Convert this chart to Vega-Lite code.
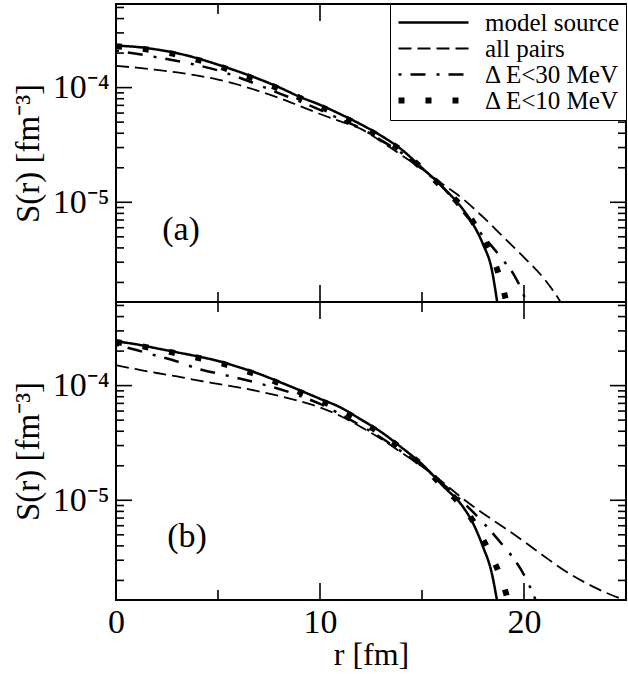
{
  "$schema": "https://vega.github.io/schema/vega-lite/v6.json",
  "background": "white",
  "padding": {"left": 11, "top": 2, "right": 6, "bottom": 2},
  "bounds": "flush",
  "spacing": 0,
  "config": {
    "font": "Liberation Serif",
    "view": {"stroke": "black", "strokeWidth": 2},
    "axis": {"domain": false, "ticks": false, "grid": false, "labelColor": "black", "titleColor": "black", "labelFont": "Liberation Serif", "titleFont": "Liberation Serif", "titleFontWeight": "normal", "labelFlush": false, "labelOverlap": false, "labelBound": false},
    "legend": {"labelFont": "Liberation Serif", "labelFontSize": 25, "labelColor": "black", "symbolStrokeColor": "black", "strokeColor": "black", "fillColor": "white", "padding": 6, "rowPadding": 0, "labelLimit": 0}
  },
  "datasets": {
    "yMinor": [{"v": 2e-6}, {"v": 3e-6}, {"v": 4e-6}, {"v": 5e-6}, {"v": 6e-6}, {"v": 7e-6}, {"v": 8e-6}, {"v": 9e-6}, {"v": 2e-5}, {"v": 3e-5}, {"v": 4e-5}, {"v": 5e-5}, {"v": 6e-5}, {"v": 7e-5}, {"v": 8e-5}, {"v": 9e-5}, {"v": 2e-4}, {"v": 3e-4}, {"v": 4e-4}, {"v": 5e-4}],
    "yMajor": [{"v": 1e-5}, {"v": 1e-4}],
    "xMinor": [{"v": 5}, {"v": 15}],
    "xMajor": [{"v": 10}, {"v": 20}],
    "top": [
      {"r": 0, "S": 2.32e-4, "series": "model source"}, {"r": 1, "S": 2.265e-4, "series": "model source"}, {"r": 2, "S": 2.148e-4, "series": "model source"}, {"r": 3, "S": 1.995e-4, "series": "model source"}, {"r": 4, "S": 1.799e-4, "series": "model source"}, {"r": 5, "S": 1.585e-4, "series": "model source"}, {"r": 6, "S": 1.38e-4, "series": "model source"}, {"r": 7, "S": 1.189e-4, "series": "model source"}, {"r": 8, "S": 1.005e-4, "series": "model source"}, {"r": 9, "S": 8.318e-5, "series": "model source"}, {"r": 10, "S": 7.079e-5, "series": "model source"}, {"r": 11, "S": 5.861e-5, "series": "model source"}, {"r": 12, "S": 4.786e-5, "series": "model source"}, {"r": 13, "S": 3.802e-5, "series": "model source"}, {"r": 14, "S": 2.884e-5, "series": "model source"}, {"r": 15, "S": 1.995e-5, "series": "model source"}, {"r": 16, "S": 1.365e-5, "series": "model source"}, {"r": 17, "S": 8.71e-6, "series": "model source"}, {"r": 17.5, "S": 6.457e-6, "series": "model source"}, {"r": 18, "S": 4.266e-6, "series": "model source"}, {"r": 18.4, "S": 2.692e-6, "series": "model source"}, {"r": 18.75, "S": 1.122e-6, "series": "model source"},
      {"r": 0, "S": 1.545e-4, "series": "all pairs"}, {"r": 1, "S": 1.493e-4, "series": "all pairs"}, {"r": 2, "S": 1.429e-4, "series": "all pairs"}, {"r": 3, "S": 1.355e-4, "series": "all pairs"}, {"r": 4, "S": 1.271e-4, "series": "all pairs"}, {"r": 5, "S": 1.175e-4, "series": "all pairs"}, {"r": 6, "S": 1.059e-4, "series": "all pairs"}, {"r": 7, "S": 9.333e-5, "series": "all pairs"}, {"r": 8, "S": 8.128e-5, "series": "all pairs"}, {"r": 9, "S": 6.918e-5, "series": "all pairs"}, {"r": 10, "S": 5.888e-5, "series": "all pairs"}, {"r": 11, "S": 5.07e-5, "series": "all pairs"}, {"r": 12, "S": 4.365e-5, "series": "all pairs"}, {"r": 13, "S": 3.388e-5, "series": "all pairs"}, {"r": 14, "S": 2.57e-5, "series": "all pairs"}, {"r": 15, "S": 1.95e-5, "series": "all pairs"}, {"r": 16, "S": 1.445e-5, "series": "all pairs"}, {"r": 17, "S": 1.072e-5, "series": "all pairs"}, {"r": 18, "S": 7.413e-6, "series": "all pairs"}, {"r": 19, "S": 4.955e-6, "series": "all pairs"}, {"r": 20, "S": 3.311e-6, "series": "all pairs"}, {"r": 21, "S": 2.138e-6, "series": "all pairs"}, {"r": 21.5, "S": 1.622e-6, "series": "all pairs"}, {"r": 22, "S": 1.175e-6, "series": "all pairs"},
      {"r": 0, "S": 2.104e-4, "series": "dE30"}, {"r": 1, "S": 1.972e-4, "series": "dE30"}, {"r": 2, "S": 1.841e-4, "series": "dE30"}, {"r": 3, "S": 1.706e-4, "series": "dE30"}, {"r": 4, "S": 1.567e-4, "series": "dE30"}, {"r": 5, "S": 1.413e-4, "series": "dE30"}, {"r": 6, "S": 1.23e-4, "series": "dE30"}, {"r": 7, "S": 1.052e-4, "series": "dE30"}, {"r": 8, "S": 8.913e-5, "series": "dE30"}, {"r": 9, "S": 7.586e-5, "series": "dE30"}, {"r": 10, "S": 6.383e-5, "series": "dE30"}, {"r": 11, "S": 5.309e-5, "series": "dE30"}, {"r": 12, "S": 4.416e-5, "series": "dE30"}, {"r": 13, "S": 3.467e-5, "series": "dE30"}, {"r": 14, "S": 2.692e-5, "series": "dE30"}, {"r": 15, "S": 1.95e-5, "series": "dE30"}, {"r": 16, "S": 1.365e-5, "series": "dE30"}, {"r": 17, "S": 8.318e-6, "series": "dE30"}, {"r": 18, "S": 5.07e-6, "series": "dE30"}, {"r": 19, "S": 3.09e-6, "series": "dE30"}, {"r": 19.5, "S": 2.344e-6, "series": "dE30"}, {"r": 20, "S": 1.531e-6, "series": "dE30"}, {"r": 20.2, "S": 1.202e-6, "series": "dE30"},
      {"r": 0, "S": 2.291e-4, "series": "dE10"}, {"r": 1, "S": 2.213e-4, "series": "dE10"}, {"r": 2, "S": 2.089e-4, "series": "dE10"}, {"r": 3, "S": 1.936e-4, "series": "dE10"}, {"r": 4, "S": 1.746e-4, "series": "dE10"}, {"r": 5, "S": 1.542e-4, "series": "dE10"}, {"r": 6, "S": 1.343e-4, "series": "dE10"}, {"r": 7, "S": 1.153e-4, "series": "dE10"}, {"r": 8, "S": 9.772e-5, "series": "dE10"}, {"r": 9, "S": 8.166e-5, "series": "dE10"}, {"r": 10, "S": 6.839e-5, "series": "dE10"}, {"r": 11, "S": 5.689e-5, "series": "dE10"}, {"r": 12, "S": 4.624e-5, "series": "dE10"}, {"r": 13, "S": 3.673e-5, "series": "dE10"}, {"r": 14, "S": 2.818e-5, "series": "dE10"}, {"r": 15, "S": 1.972e-5, "series": "dE10"}, {"r": 16, "S": 1.349e-5, "series": "dE10"}, {"r": 17, "S": 8.913e-6, "series": "dE10"}, {"r": 17.5, "S": 6.761e-6, "series": "dE10"}, {"r": 18, "S": 4.677e-6, "series": "dE10"}, {"r": 18.5, "S": 3.162e-6, "series": "dE10"}, {"r": 19, "S": 1.698e-6, "series": "dE10"}, {"r": 19.2, "S": 1.202e-6, "series": "dE10"}
    ],
    "bottom": [
      {"r": 0, "S": 2.432e-4, "series": "model source"}, {"r": 1, "S": 2.291e-4, "series": "model source"}, {"r": 2, "S": 2.113e-4, "series": "model source"}, {"r": 3, "S": 1.95e-4, "series": "model source"}, {"r": 4, "S": 1.799e-4, "series": "model source"}, {"r": 5, "S": 1.641e-4, "series": "model source"}, {"r": 6, "S": 1.452e-4, "series": "model source"}, {"r": 7, "S": 1.268e-4, "series": "model source"}, {"r": 8, "S": 1.079e-4, "series": "model source"}, {"r": 9, "S": 9.12e-5, "series": "model source"}, {"r": 10, "S": 7.674e-5, "series": "model source"}, {"r": 11, "S": 6.457e-5, "series": "model source"}, {"r": 12, "S": 5.07e-5, "series": "model source"}, {"r": 13, "S": 3.936e-5, "series": "model source"}, {"r": 14, "S": 2.884e-5, "series": "model source"}, {"r": 15, "S": 2.065e-5, "series": "model source"}, {"r": 16, "S": 1.349e-5, "series": "model source"}, {"r": 17, "S": 8.81e-6, "series": "model source"}, {"r": 17.5, "S": 6.31e-6, "series": "model source"}, {"r": 18, "S": 3.89e-6, "series": "model source"}, {"r": 18.4, "S": 2.399e-6, "series": "model source"}, {"r": 18.75, "S": 1.122e-6, "series": "model source"},
      {"r": 0, "S": 1.503e-4, "series": "all pairs"}, {"r": 1, "S": 1.39e-4, "series": "all pairs"}, {"r": 2, "S": 1.288e-4, "series": "all pairs"}, {"r": 3, "S": 1.202e-4, "series": "all pairs"}, {"r": 4, "S": 1.109e-4, "series": "all pairs"}, {"r": 5, "S": 1.035e-4, "series": "all pairs"}, {"r": 6, "S": 9.661e-5, "series": "all pairs"}, {"r": 7, "S": 8.913e-5, "series": "all pairs"}, {"r": 8, "S": 8.128e-5, "series": "all pairs"}, {"r": 9, "S": 7.328e-5, "series": "all pairs"}, {"r": 10, "S": 6.457e-5, "series": "all pairs"}, {"r": 11, "S": 5.433e-5, "series": "all pairs"}, {"r": 12, "S": 4.365e-5, "series": "all pairs"}, {"r": 13, "S": 3.428e-5, "series": "all pairs"}, {"r": 14, "S": 2.6e-5, "series": "all pairs"}, {"r": 15, "S": 1.972e-5, "series": "all pairs"}, {"r": 16, "S": 1.445e-5, "series": "all pairs"}, {"r": 17, "S": 1.035e-5, "series": "all pairs"}, {"r": 18, "S": 7.674e-6, "series": "all pairs"}, {"r": 19, "S": 5.821e-6, "series": "all pairs"}, {"r": 20, "S": 4.365e-6, "series": "all pairs"}, {"r": 21, "S": 3.236e-6, "series": "all pairs"}, {"r": 22, "S": 2.427e-6, "series": "all pairs"}, {"r": 23, "S": 1.914e-6, "series": "all pairs"}, {"r": 24, "S": 1.567e-6, "series": "all pairs"}, {"r": 25, "S": 1.334e-6, "series": "all pairs"},
      {"r": 0, "S": 2.275e-4, "series": "dE30"}, {"r": 1, "S": 2.042e-4, "series": "dE30"}, {"r": 2, "S": 1.82e-4, "series": "dE30"}, {"r": 3, "S": 1.622e-4, "series": "dE30"}, {"r": 4, "S": 1.406e-4, "series": "dE30"}, {"r": 5, "S": 1.274e-4, "series": "dE30"}, {"r": 6, "S": 1.161e-4, "series": "dE30"}, {"r": 7, "S": 1.047e-4, "series": "dE30"}, {"r": 8, "S": 9.333e-5, "series": "dE30"}, {"r": 9, "S": 8.166e-5, "series": "dE30"}, {"r": 10, "S": 6.918e-5, "series": "dE30"}, {"r": 11, "S": 5.623e-5, "series": "dE30"}, {"r": 12, "S": 4.467e-5, "series": "dE30"}, {"r": 13, "S": 3.508e-5, "series": "dE30"}, {"r": 14, "S": 2.661e-5, "series": "dE30"}, {"r": 15, "S": 1.995e-5, "series": "dE30"}, {"r": 16, "S": 1.396e-5, "series": "dE30"}, {"r": 17, "S": 9.661e-6, "series": "dE30"}, {"r": 18, "S": 6.383e-6, "series": "dE30"}, {"r": 19, "S": 3.981e-6, "series": "dE30"}, {"r": 19.5, "S": 3.09e-6, "series": "dE30"}, {"r": 20, "S": 2.239e-6, "series": "dE30"}, {"r": 20.5, "S": 1.445e-6, "series": "dE30"}, {"r": 20.7, "S": 1.175e-6, "series": "dE30"},
      {"r": 0, "S": 2.399e-4, "series": "dE10"}, {"r": 1, "S": 2.249e-4, "series": "dE10"}, {"r": 2, "S": 2.075e-4, "series": "dE10"}, {"r": 3, "S": 1.905e-4, "series": "dE10"}, {"r": 4, "S": 1.75e-4, "series": "dE10"}, {"r": 5, "S": 1.592e-4, "series": "dE10"}, {"r": 6, "S": 1.413e-4, "series": "dE10"}, {"r": 7, "S": 1.23e-4, "series": "dE10"}, {"r": 8, "S": 1.047e-4, "series": "dE10"}, {"r": 9, "S": 8.81e-5, "series": "dE10"}, {"r": 10, "S": 7.413e-5, "series": "dE10"}, {"r": 11, "S": 6.166e-5, "series": "dE10"}, {"r": 12, "S": 4.898e-5, "series": "dE10"}, {"r": 13, "S": 3.802e-5, "series": "dE10"}, {"r": 14, "S": 2.818e-5, "series": "dE10"}, {"r": 15, "S": 2.018e-5, "series": "dE10"}, {"r": 16, "S": 1.334e-5, "series": "dE10"}, {"r": 17, "S": 8.71e-6, "series": "dE10"}, {"r": 17.5, "S": 6.607e-6, "series": "dE10"}, {"r": 18, "S": 4.519e-6, "series": "dE10"}, {"r": 18.5, "S": 3.02e-6, "series": "dE10"}, {"r": 19, "S": 1.82e-6, "series": "dE10"}, {"r": 19.3, "S": 1.175e-6, "series": "dE10"}
    ]
  },
  "resolve": {"scale": {"strokeDash": "independent"}, "legend": {"strokeDash": "independent"}},
  "vconcat": [
    {
      "width": 510,
      "height": 298,
      "resolve": {"axis": {"x": "independent", "y": "independent"}},
      "layer": [
        {
          "data": {"name": "top"},
          "mark": {"type": "line", "clip": true, "stroke": "black", "interpolate": "monotone"},
          "encoding": {
            "x": {"field": "r", "type": "quantitative", "scale": {"domain": [0, 25], "nice": false, "zero": false}, "axis": null},
            "y": {"field": "S", "type": "quantitative", "scale": {"type": "log", "domain": [1.35e-6, 5.36e-4], "nice": false},
                  "axis": {"orient": "left", "values": [1e-5, 1e-4],
                           "labelExpr": "datum.value > 5e-5 ? '10⁻⁴' : '10⁻⁵'",
                           "labelPadding": 7, "labelFontSize": 34, "title": "S(r) [fm⁻³]", "titleFontSize": 33, "titleX": -78, "titleY": 149, "titleBaseline": "alphabetic", "titleAlign": "center", "titleAngle": 270}},
            "strokeDash": {"field": "series", "type": "nominal", "scale": {"domain": ["model source", "all pairs", "dE30", "dE10"], "range": [[1, 0], [13, 6], [3, 9, 15, 11], [6, 21]]},
                           "legend": {"orient": "top-right", "offset": 0, "title": null, "symbolType": "M-1,0H6", "symbolSize": 400, "symbolOffset": 0, "labelOffset": 64,
                                      "labelExpr": "datum.label === 'dE30' ? '\u00a0Δ E<30 MeV' : datum.label === 'dE10' ? '\u00a0Δ E<10 MeV' : datum.label",
                                      "encode": {"symbols": {"update": {"strokeWidth": {"signal": "datum.value === 'dE10' ? 6 : datum.value === 'all pairs' ? 1.8 : 2.5"}}}}}},
            "strokeWidth": {"condition": [{"test": "datum.series === 'dE10'", "value": 6}, {"test": "datum.series === 'all pairs'", "value": 1.8}], "value": 2.5}
          }
        },
        {
          "data": {"values": [{"r": 3.19, "S": 5.7e-6, "label": "(a)"}]},
          "mark": {"type": "text", "fontSize": 34, "baseline": "middle", "align": "center", "color": "black", "font": "Liberation Serif"},
          "encoding": {
            "x": {"field": "r", "type": "quantitative", "scale": {"domain": [0, 25], "nice": false, "zero": false}, "axis": null},
            "y": {"field": "S", "type": "quantitative", "scale": {"type": "log", "domain": [1.35e-6, 5.36e-4], "nice": false}, "axis": null},
            "text": {"field": "label"}
          }
        },
        {"data": {"name": "yMinor"}, "mark": {"type": "tick", "orient": "horizontal", "size": 16, "thickness": 1.6, "color": "black", "opacity": 1, "clip": true},
         "encoding": {"y": {"field": "v", "type": "quantitative", "scale": {"type": "log", "domain": [1.35e-6, 5.36e-4], "nice": false}, "axis": null}, "x": {"datum": 0, "type": "quantitative", "scale": {"domain": [0, 25], "nice": false, "zero": false}, "axis": null}}},
        {"data": {"name": "yMinor"}, "mark": {"type": "tick", "orient": "horizontal", "size": 16, "thickness": 1.6, "color": "black", "opacity": 1, "clip": true},
         "encoding": {"y": {"field": "v", "type": "quantitative", "scale": {"type": "log", "domain": [1.35e-6, 5.36e-4], "nice": false}, "axis": null}, "x": {"datum": 25, "type": "quantitative", "scale": {"domain": [0, 25], "nice": false, "zero": false}, "axis": null}}},
        {"data": {"name": "yMajor"}, "mark": {"type": "tick", "orient": "horizontal", "size": 32, "thickness": 1.6, "color": "black", "opacity": 1, "clip": true},
         "encoding": {"y": {"field": "v", "type": "quantitative", "scale": {"type": "log", "domain": [1.35e-6, 5.36e-4], "nice": false}, "axis": null}, "x": {"datum": 0, "type": "quantitative", "scale": {"domain": [0, 25], "nice": false, "zero": false}, "axis": null}}},
        {"data": {"name": "yMajor"}, "mark": {"type": "tick", "orient": "horizontal", "size": 32, "thickness": 1.6, "color": "black", "opacity": 1, "clip": true},
         "encoding": {"y": {"field": "v", "type": "quantitative", "scale": {"type": "log", "domain": [1.35e-6, 5.36e-4], "nice": false}, "axis": null}, "x": {"datum": 25, "type": "quantitative", "scale": {"domain": [0, 25], "nice": false, "zero": false}, "axis": null}}},
        {"data": {"name": "xMinor"}, "mark": {"type": "tick", "orient": "vertical", "size": 20, "thickness": 1.6, "color": "black", "opacity": 1, "clip": true},
         "encoding": {"x": {"field": "v", "type": "quantitative", "scale": {"domain": [0, 25], "nice": false, "zero": false}, "axis": null}, "y": {"datum": 1.35e-6, "type": "quantitative", "scale": {"type": "log", "domain": [1.35e-6, 5.36e-4], "nice": false}, "axis": null}}},
        {"data": {"name": "xMinor"}, "mark": {"type": "tick", "orient": "vertical", "size": 20, "thickness": 1.6, "color": "black", "opacity": 1, "clip": true},
         "encoding": {"x": {"field": "v", "type": "quantitative", "scale": {"domain": [0, 25], "nice": false, "zero": false}, "axis": null}, "y": {"datum": 5.36e-4, "type": "quantitative", "scale": {"type": "log", "domain": [1.35e-6, 5.36e-4], "nice": false}, "axis": null}}},
        {"data": {"name": "xMajor"}, "mark": {"type": "tick", "orient": "vertical", "size": 34, "thickness": 1.6, "color": "black", "opacity": 1, "clip": true},
         "encoding": {"x": {"field": "v", "type": "quantitative", "scale": {"domain": [0, 25], "nice": false, "zero": false}, "axis": null}, "y": {"datum": 1.35e-6, "type": "quantitative", "scale": {"type": "log", "domain": [1.35e-6, 5.36e-4], "nice": false}, "axis": null}}},
        {"data": {"name": "xMajor"}, "mark": {"type": "tick", "orient": "vertical", "size": 34, "thickness": 1.6, "color": "black", "opacity": 1, "clip": true},
         "encoding": {"x": {"field": "v", "type": "quantitative", "scale": {"domain": [0, 25], "nice": false, "zero": false}, "axis": null}, "y": {"datum": 5.36e-4, "type": "quantitative", "scale": {"type": "log", "domain": [1.35e-6, 5.36e-4], "nice": false}, "axis": null}}}
      ]
    },
    {
      "width": 510,
      "height": 298,
      "resolve": {"axis": {"x": "independent", "y": "independent"}},
      "layer": [
        {
          "data": {"name": "bottom"},
          "mark": {"type": "line", "clip": true, "stroke": "black", "interpolate": "monotone"},
          "encoding": {
            "x": {"field": "r", "type": "quantitative", "scale": {"domain": [0, 25], "nice": false, "zero": false},
                  "axis": {"orient": "bottom", "values": [0, 10, 20], "format": "d",
                           "labelBaseline": "alphabetic", "labelPadding": 32, "labelFontSize": 34, "title": "r [fm]", "titleFontSize": 32, "titleY": 64, "titleX": 255, "titleBaseline": "alphabetic", "titleAlign": "center"}},
            "y": {"field": "S", "type": "quantitative", "scale": {"type": "log", "domain": [1.35e-6, 5.36e-4], "nice": false},
                  "axis": {"orient": "left", "values": [1e-5, 1e-4],
                           "labelExpr": "datum.value > 5e-5 ? '10⁻⁴' : '10⁻⁵'",
                           "labelPadding": 7, "labelFontSize": 34, "title": "S(r) [fm⁻³]", "titleFontSize": 33, "titleX": -78, "titleY": 149, "titleBaseline": "alphabetic", "titleAlign": "center", "titleAngle": 270}},
            "strokeDash": {"field": "series", "type": "nominal", "scale": {"domain": ["model source", "all pairs", "dE30", "dE10"], "range": [[1, 0], [13, 6], [3, 9, 15, 11], [6, 21]]}, "legend": null},
            "strokeWidth": {"condition": [{"test": "datum.series === 'dE10'", "value": 6}, {"test": "datum.series === 'all pairs'", "value": 1.8}], "value": 2.5}
          }
        },
        {
          "data": {"values": [{"r": 3.48, "S": 4.8e-6, "label": "(b)"}]},
          "mark": {"type": "text", "fontSize": 34, "baseline": "middle", "align": "center", "color": "black", "font": "Liberation Serif"},
          "encoding": {
            "x": {"field": "r", "type": "quantitative", "scale": {"domain": [0, 25], "nice": false, "zero": false}, "axis": null},
            "y": {"field": "S", "type": "quantitative", "scale": {"type": "log", "domain": [1.35e-6, 5.36e-4], "nice": false}, "axis": null},
            "text": {"field": "label"}
          }
        },
        {"data": {"name": "yMinor"}, "mark": {"type": "tick", "orient": "horizontal", "size": 16, "thickness": 1.6, "color": "black", "opacity": 1, "clip": true},
         "encoding": {"y": {"field": "v", "type": "quantitative", "scale": {"type": "log", "domain": [1.35e-6, 5.36e-4], "nice": false}, "axis": null}, "x": {"datum": 0, "type": "quantitative", "scale": {"domain": [0, 25], "nice": false, "zero": false}, "axis": null}}},
        {"data": {"name": "yMinor"}, "mark": {"type": "tick", "orient": "horizontal", "size": 16, "thickness": 1.6, "color": "black", "opacity": 1, "clip": true},
         "encoding": {"y": {"field": "v", "type": "quantitative", "scale": {"type": "log", "domain": [1.35e-6, 5.36e-4], "nice": false}, "axis": null}, "x": {"datum": 25, "type": "quantitative", "scale": {"domain": [0, 25], "nice": false, "zero": false}, "axis": null}}},
        {"data": {"name": "yMajor"}, "mark": {"type": "tick", "orient": "horizontal", "size": 32, "thickness": 1.6, "color": "black", "opacity": 1, "clip": true},
         "encoding": {"y": {"field": "v", "type": "quantitative", "scale": {"type": "log", "domain": [1.35e-6, 5.36e-4], "nice": false}, "axis": null}, "x": {"datum": 0, "type": "quantitative", "scale": {"domain": [0, 25], "nice": false, "zero": false}, "axis": null}}},
        {"data": {"name": "yMajor"}, "mark": {"type": "tick", "orient": "horizontal", "size": 32, "thickness": 1.6, "color": "black", "opacity": 1, "clip": true},
         "encoding": {"y": {"field": "v", "type": "quantitative", "scale": {"type": "log", "domain": [1.35e-6, 5.36e-4], "nice": false}, "axis": null}, "x": {"datum": 25, "type": "quantitative", "scale": {"domain": [0, 25], "nice": false, "zero": false}, "axis": null}}},
        {"data": {"name": "xMinor"}, "mark": {"type": "tick", "orient": "vertical", "size": 20, "thickness": 1.6, "color": "black", "opacity": 1, "clip": true},
         "encoding": {"x": {"field": "v", "type": "quantitative", "scale": {"domain": [0, 25], "nice": false, "zero": false}, "axis": null}, "y": {"datum": 1.35e-6, "type": "quantitative", "scale": {"type": "log", "domain": [1.35e-6, 5.36e-4], "nice": false}, "axis": null}}},
        {"data": {"name": "xMinor"}, "mark": {"type": "tick", "orient": "vertical", "size": 20, "thickness": 1.6, "color": "black", "opacity": 1, "clip": true},
         "encoding": {"x": {"field": "v", "type": "quantitative", "scale": {"domain": [0, 25], "nice": false, "zero": false}, "axis": null}, "y": {"datum": 5.36e-4, "type": "quantitative", "scale": {"type": "log", "domain": [1.35e-6, 5.36e-4], "nice": false}, "axis": null}}},
        {"data": {"name": "xMajor"}, "mark": {"type": "tick", "orient": "vertical", "size": 34, "thickness": 1.6, "color": "black", "opacity": 1, "clip": true},
         "encoding": {"x": {"field": "v", "type": "quantitative", "scale": {"domain": [0, 25], "nice": false, "zero": false}, "axis": null}, "y": {"datum": 1.35e-6, "type": "quantitative", "scale": {"type": "log", "domain": [1.35e-6, 5.36e-4], "nice": false}, "axis": null}}},
        {"data": {"name": "xMajor"}, "mark": {"type": "tick", "orient": "vertical", "size": 34, "thickness": 1.6, "color": "black", "opacity": 1, "clip": true},
         "encoding": {"x": {"field": "v", "type": "quantitative", "scale": {"domain": [0, 25], "nice": false, "zero": false}, "axis": null}, "y": {"datum": 5.36e-4, "type": "quantitative", "scale": {"type": "log", "domain": [1.35e-6, 5.36e-4], "nice": false}, "axis": null}}}
      ]
    }
  ]
}
